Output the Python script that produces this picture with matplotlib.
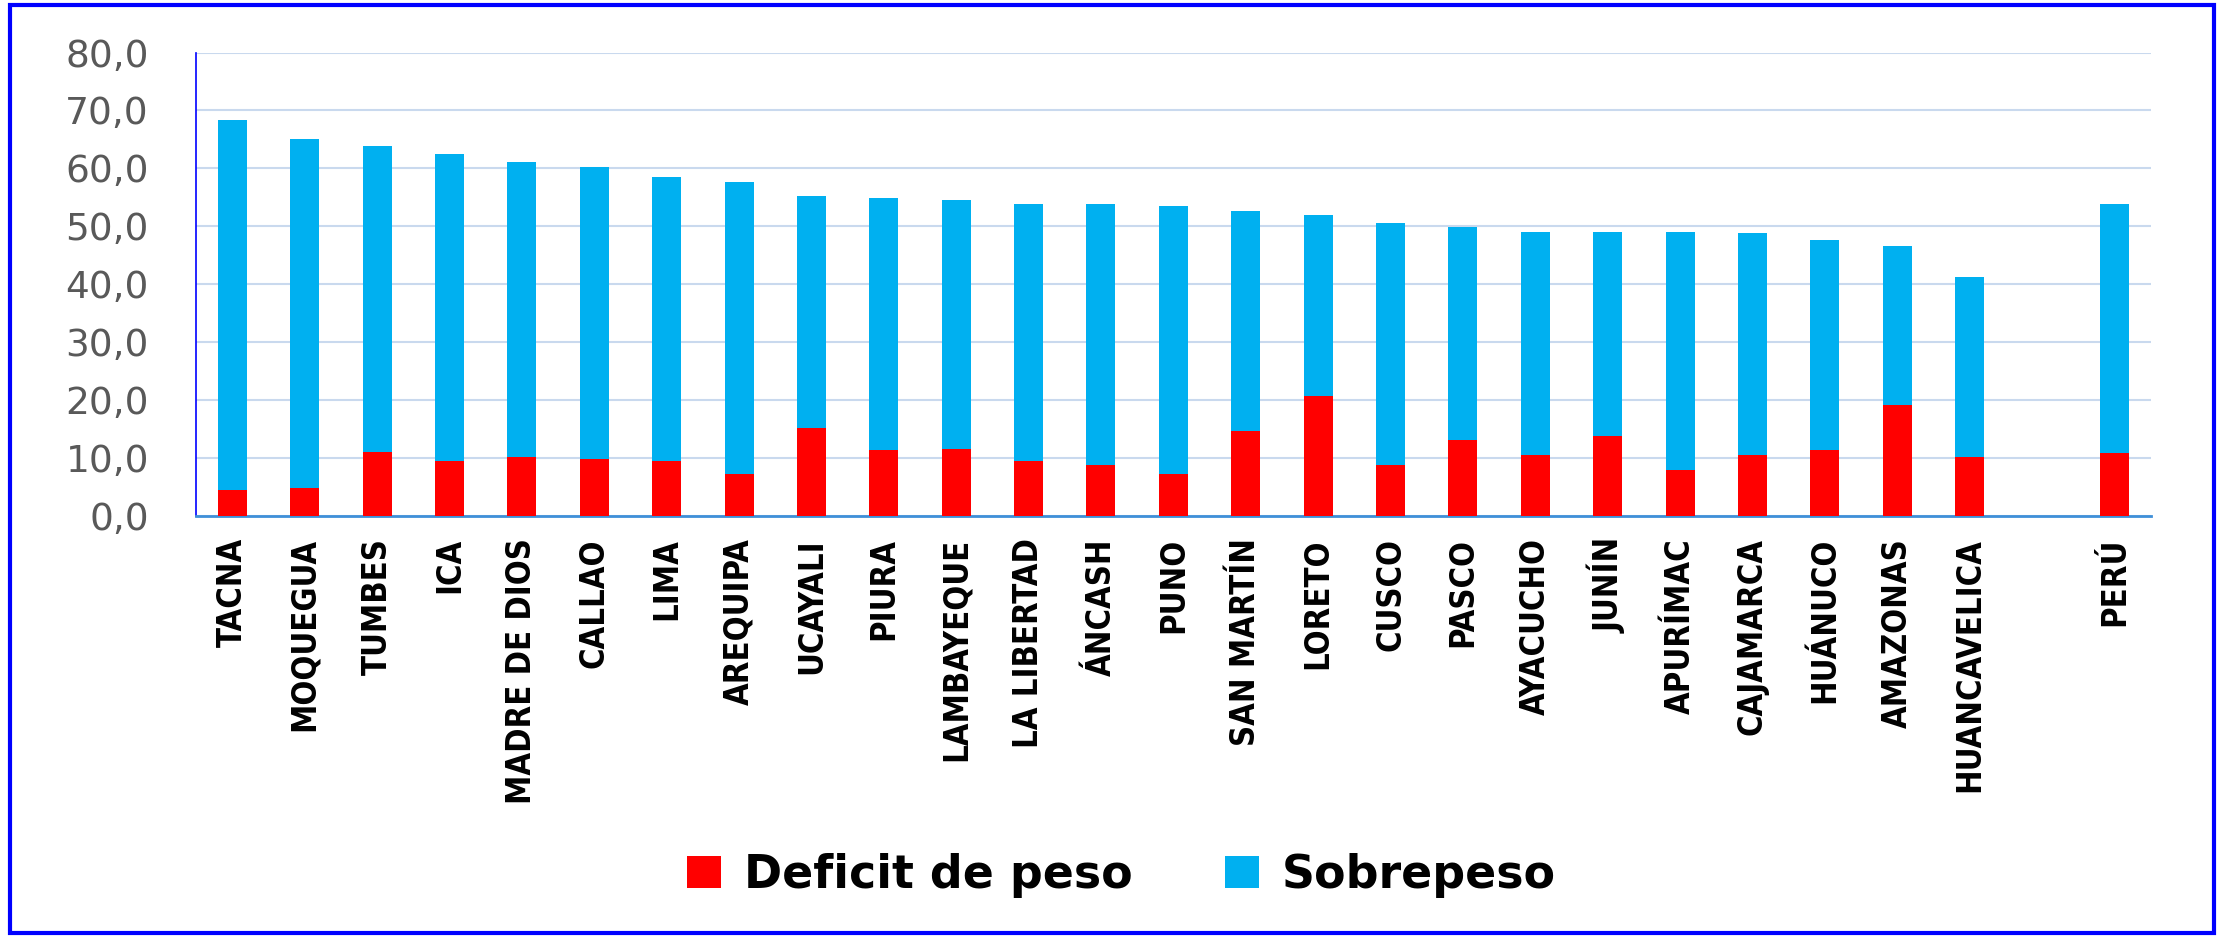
import numpy as np
import matplotlib.pyplot as plt
from matplotlib.patches import Rectangle

# data
regions = ['TACNA', 'MOQUEGUA', 'TUMBES', 'ICA', 'MADRE DE DIOS', 'CALLAO', 'LIMA',
           'AREQUIPA', 'UCAYALI', 'PIURA', 'LAMBAYEQUE', 'LA LIBERTAD', 'ÁNCASH',
           'PUNO', 'SAN MARTÍN', 'LORETO', 'CUSCO', 'PASCO', 'AYACUCHO', 'JUNÍN',
           'APURÍMAC', 'CAJAMARCA', 'HUÁNUCO', 'AMAZONAS', 'HUANCAVELICA', 'PERÚ']
deficit = [4.4, 4.8, 11.0, 9.5, 10.2, 9.8, 9.5, 7.3, 15.2, 11.3, 11.6, 9.5, 8.8,
           7.3, 14.6, 20.7, 8.8, 13.1, 10.5, 13.8, 8.0, 10.5, 11.3, 19.2, 10.2, 10.9]
total = [68.3, 65.0, 63.9, 62.4, 61.1, 60.2, 58.5, 57.7, 55.2, 54.9, 54.5, 53.8, 53.8,
         53.5, 52.7, 52.0, 50.5, 49.8, 49.1, 49.1, 49.1, 48.8, 47.7, 46.6, 41.2, 53.8]
sobrepeso = [t - d for t, d in zip(total, deficit)]

red = '#FF0000'
blue = '#00B0F0'

x = np.arange(len(regions), dtype=float)
x[-1] += 1  # empty slot before PERÚ

fig = plt.figure(figsize=(22.21, 9.38), dpi=100)
ax = fig.add_axes([0.0883, 0.450, 0.880, 0.494])

ax.bar(x, deficit, width=0.4, color=red, label='Deficit de peso', zorder=3)
ax.bar(x, sobrepeso, width=0.4, bottom=deficit, color=blue, label='Sobrepeso', zorder=3)

ax.set_xlim(-0.5, x[-1] + 0.5)
ax.set_ylim(0, 80)
ax.set_yticks(np.arange(0, 81, 10))
ax.set_yticklabels([f'{v:.1f}'.replace('.', ',') for v in np.arange(0, 81, 10)],
                   fontsize=27, color='#595959')
ax.set_xticks(x)
ax.set_xticklabels(regions, rotation=90, fontsize=23.5, fontweight='bold',
                   fontstretch='condensed', color='black')
ax.tick_params(axis='y', length=0, pad=34)
ax.tick_params(axis='x', length=0, pad=16)

ax.grid(axis='y', color='#C9D9EE', lw=1.5, zorder=0)
ax.set_axisbelow(True)
for s in ['top', 'right']:
    ax.spines[s].set_visible(False)
ax.spines['left'].set_color('#0000FF')
ax.spines['left'].set_linewidth(1.2)
ax.spines['bottom'].set_color('#3F8FD8')
ax.spines['bottom'].set_linewidth(2)

fig.legend(loc='center', bbox_to_anchor=(0.505, 0.067), ncol=2, frameon=False,
           prop={'weight': 'bold', 'size': 33}, handlelength=0.75, handleheight=0.7,
           handletextpad=0.5, columnspacing=2.0)

# blue frame around the whole picture
fig.patches.append(Rectangle((10 / 2221, 5 / 938), 2204 / 2221, 928 / 938,
                             transform=fig.transFigure, fill=False,
                             ec='#0000FF', lw=3))

fig.savefig('out.png', dpi=100)
